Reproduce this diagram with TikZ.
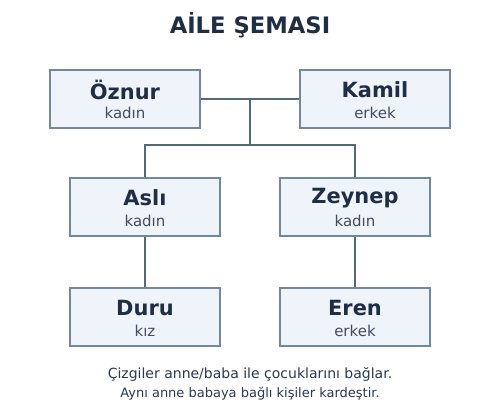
\documentclass[tikz,border=0pt]{standalone}
\usepackage{fontspec}
\setmainfont{DejaVu Sans}
\begin{document}
\begin{tikzpicture}[x=0.75pt,y=-0.75pt,
  person/.style={draw=boxline,fill=boxfill,line width=0.9pt,minimum width=112.5pt,minimum height=43.5pt,inner sep=0pt,text=ink,align=center},
  link/.style={draw=linkc,line width=1.5pt},
  nm/.style={font=\bfseries\fontsize{15.7}{18}\selectfont},
]
\definecolor{ink}{HTML}{1F2D45}
\definecolor{boxfill}{HTML}{EEF4FA}
\definecolor{boxline}{HTML}{72889C}
\definecolor{linkc}{HTML}{536A7E}
\definecolor{capc}{HTML}{2A3850}
\useasboundingbox (0,0) rectangle (500,410);
\node[text=ink,font=\bfseries\fontsize{17}{20}\selectfont] (title) at (250,25) {AİLE ŞEMASI};
\node[person] (oznur) at (125,99) {};
\node[person] (kamil) at (375,99) {};
\node[person] (asli) at (145,207) {};
\node[person] (zeynep) at (355,207) {};
\node[person] (duru) at (145,317) {};
\node[person] (eren) at (355,317) {};
\foreach \n/\a/\b in {oznur/Öznur/kadın,kamil/Kamil/erkek,asli/Aslı/kadın,zeynep/Zeynep/kadın,duru/Duru/kız,eren/Eren/erkek}{
  \node[text=ink,nm] (\n-name) at ([yshift=6.75pt]\n.center) {\a};
  \node[text=ink!85,font=\fontsize{11.25}{13}\selectfont] (\n-sub) at ([yshift=-10.5pt]\n.center) {\b};
}
\coordinate (mid) at (250,99);
\coordinate (fork) at (250,145);
\coordinate (fl) at (145,145);
\coordinate (fr) at (355,145);
\draw[link] (oznur.east) -- (kamil.west);
\draw[link] (mid) -- (fork);
\draw[link] (asli.north) -- (fl) -- (fr) -- (zeynep.north);
\draw[link] (asli.south) -- (duru.north);
\draw[link] (zeynep.south) -- (eren.north);
\node[text=capc,font=\fontsize{10.5}{12}\selectfont] (cap1) at (250,374) {Çizgiler anne/baba ile çocuklarını bağlar.};
\node[text=capc,font=\fontsize{9.75}{11}\selectfont] (cap2) at (250,394) {Aynı anne babaya bağlı kişiler kardeştir.};
\end{tikzpicture}
\end{document}
